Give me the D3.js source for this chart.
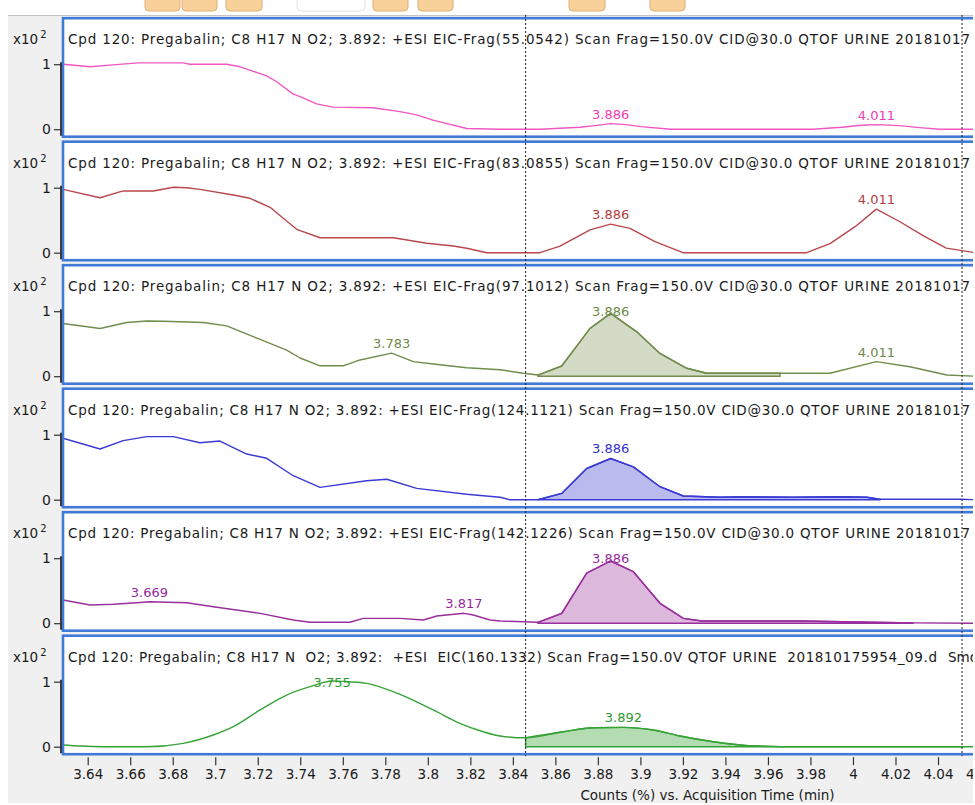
<!DOCTYPE html>
<html>
<head>
<meta charset="utf-8">
<script src="https://cdn.jsdelivr.net/npm/d3@7"></script>
<style>
  html, body { margin: 0; padding: 0; background: #fff; }
  svg { display: block; }
  text { font-family: "DejaVu Sans", Verdana, sans-serif; fill: #1a1a1a; white-space: pre; }
</style>
</head>
<body>
<svg id="chart" width="975" height="805"></svg>
<script>
// Extracted ion chromatograms, Pregabalin (Cpd 120): retention time (min) and relative counts (%)
const frag55Time   = [3.6284, 3.6411, 3.652, 3.6637, 3.6848, 3.6881, 3.7054, 3.7117, 3.7242, 3.7289, 3.7367, 3.7399, 3.7477, 3.7554, 3.7742, 3.7869, 3.7948, 3.8024, 3.8183, 3.834, 3.8528, 3.8622, 3.8716, 3.8787, 3.886, 3.8931, 3.9002, 3.9143, 3.9812, 3.9947, 4.0041, 4.011, 4.0219, 4.0313, 4.0407, 4.0574];
const frag55Counts = [100, 96, 99, 102, 102, 100, 100, 96, 82, 73, 54, 50, 39, 34, 33, 27, 22, 14, 1, 0, 0, 1.5, 3, 5.5, 8.5, 7, 4, 0, 0, 3, 6, 7, 5.5, 2.5, 0, 0];

const frag83Time   = [3.6284, 3.6458, 3.6567, 3.6709, 3.6803, 3.6866, 3.6928, 3.7085, 3.7163, 3.7258, 3.732, 3.7383, 3.7493, 3.7838, 3.7995, 3.812, 3.8183, 3.8277, 3.8528, 3.8622, 3.8763, 3.886, 3.8951, 3.9069, 3.92, 3.9782, 3.9892, 4.001, 4.011, 4.0219, 4.0336, 4.0439, 4.0574];
const frag83Counts = [97.5, 84.6, 95, 95, 100.6, 100, 97.5, 88.8, 83.7, 69.8, 52.9, 36, 23, 23, 14.5, 10.3, 6.8, 0, 0, 10, 35, 44, 37.5, 17, 0, 0, 14, 40, 67, 48, 25, 7, 0];

const frag97Time   = [3.6284, 3.6458, 3.6583, 3.6678, 3.6756, 3.6944, 3.7054, 3.7211, 3.7336, 3.7399, 3.7493, 3.7602, 3.7681, 3.783, 3.7932, 3.8026, 3.8183, 3.834, 3.8449, 3.8518, 3.863, 3.8763, 3.886, 3.8983, 3.9092, 3.9218, 3.9312, 3.9657, 3.9892, 4.011, 4.0268, 4.0441, 4.0574];
const frag97Counts = [81, 73.4, 82.6, 85, 84.6, 82.6, 77.4, 56.6, 40, 28, 16, 16, 25, 35.4, 22.5, 18.8, 13.1, 10, 4.5, 1.8, 15.7, 73.5, 96.6, 68.3, 35, 12.2, 4.5, 4.5, 4.5, 22.5, 14.6, 1.8, 0];

const frag124Time   = [3.6284, 3.6458, 3.6567, 3.6678, 3.6803, 3.6928, 3.7022, 3.7148, 3.7242, 3.7367, 3.7493, 3.7712, 3.7807, 3.7948, 3.8183, 3.834, 3.8387, 3.8518, 3.863, 3.8747, 3.886, 3.8967, 3.9092, 3.9202, 3.9374, 3.9484, 3.9719, 3.9939, 4.0065, 4.0127, 4.0504, 4.0574];
const frag124Counts = [94.5, 78, 90.8, 97, 97, 87.7, 90.3, 70.3, 63.7, 36.9, 19, 29.2, 31.4, 17.5, 8.3, 3.7, 0, 0, 9.7, 48, 63.4, 50.5, 20, 5.7, 3.7, 4.6, 3.7, 4.6, 3.7, 0.6, 0.6, 0];

const frag142Time   = [3.6284, 3.6411, 3.652, 3.6631, 3.669, 3.6866, 3.6991, 3.7211, 3.7367, 3.7446, 3.7634, 3.7696, 3.7869, 3.7979, 3.8042, 3.817, 3.8214, 3.8293, 3.834, 3.8518, 3.863, 3.8747, 3.886, 3.8967, 3.9092, 3.9202, 3.9288, 3.9751, 4.0282, 4.0574];
const frag142Counts = [35.7, 28, 29.1, 31.5, 33, 31.5, 25.4, 15.2, 4.9, 1.4, 1.4, 7.5, 7.5, 4.9, 11.1, 15.2, 12.6, 4.9, 3.4, 1.4, 15.2, 76.9, 95.7, 79.2, 30.6, 7.5, 3.4, 3.4, 0.5, 0];

const eic160Time   = [3.6284, 3.6364, 3.6473, 3.6678, 3.685, 3.6991, 3.7085, 3.7211, 3.7336, 3.7446, 3.755, 3.7602, 3.7712, 3.7869, 3.8026, 3.8151, 3.8261, 3.834, 3.846, 3.8637, 3.8778, 3.892, 3.9061, 3.9186, 3.9343, 3.9547, 3.9751, 4.0574];
const eic160Counts = [2.6, 1, 0, 0, 5.2, 18, 30.8, 56.5, 79.5, 92.3, 101, 100.5, 97.4, 80.5, 56.5, 36, 23, 16.5, 13.7, 23, 29.2, 29.8, 25.7, 16.5, 7.7, 1, 0, 0];

// labelled apex retention times per trace
const frag55Peaks  = [3.886, 4.011];
const frag83Peaks  = [3.886, 4.011];
const frag97Peaks  = [3.783, 3.886, 4.011];
const frag124Peaks = [3.886];
const frag142Peaks = [3.669, 3.817, 3.886];
const eic160Peaks  = [3.755, 3.892];

// integrated peak windows (min)
const frag97Window  = [3.8518, 3.9657];
const frag124Window = [3.8518, 4.0127];
const frag142Window = [3.8518, 4.0282];
const eic160Window  = [3.846, 4.0513];

// integration range markers (min)
const markerTimes = [3.846, 4.0513];

// panel headers: [main header, trailing field]
const panelTitles = [
  ["Cpd 120: Pregabalin; C8 H17 N O2; 3.892: +ESI EIC-Frag(55.0542) Scan Frag=150.0V CID@30.0 QTOF URINE 20181017", ""],
  ["Cpd 120: Pregabalin; C8 H17 N O2; 3.892: +ESI EIC-Frag(83.0855) Scan Frag=150.0V CID@30.0 QTOF URINE 20181017", ""],
  ["Cpd 120: Pregabalin; C8 H17 N O2; 3.892: +ESI EIC-Frag(97.1012) Scan Frag=150.0V CID@30.0 QTOF URINE 20181017", ""],
  ["Cpd 120: Pregabalin; C8 H17 N O2; 3.892: +ESI EIC-Frag(124.1121) Scan Frag=150.0V CID@30.0 QTOF URINE 20181017", ""],
  ["Cpd 120: Pregabalin; C8 H17 N O2; 3.892: +ESI EIC-Frag(142.1226) Scan Frag=150.0V CID@30.0 QTOF URINE 20181017", ""],
  ["Cpd 120: Pregabalin; C8 H17 N  O2; 3.892:  +ESI  EIC(160.1332) Scan Frag=150.0V QTOF URINE  201810175954_09.d", "Smooth"]
];

const xTicks = [3.64, 3.66, 3.68, 3.7, 3.72, 3.74, 3.76, 3.78, 3.8, 3.82, 3.84, 3.86, 3.88, 3.9, 3.92, 3.94, 3.96, 3.98, 4, 4.02, 4.04, 4.06];
const yTicks = [0, 100];
const xAxisTitle = "Counts (%) vs. Acquisition Time (min)";

// ---- styling per trace ----
const styles = [
  { line: "#f257c1", label: "#ee3cb2", fill: null,      titleEnd: 970, curve: d3.curveLinear },
  { line: "#b9474b", label: "#b23c40", fill: null,      titleEnd: 970, curve: d3.curveLinear },
  { line: "#718c4c", label: "#6f8a4a", fill: "#d3dbc7", titleEnd: 970, curve: d3.curveLinear },
  { line: "#3a3ad4", label: "#3030d0", fill: "#babaee", titleEnd: 970, curve: d3.curveLinear },
  { line: "#9a2e9e", label: "#962a9a", fill: "#ddb8dd", titleEnd: 970, curve: d3.curveLinear },
  { line: "#36a336", label: "#2f9a2f", fill: "#b3dcb3", titleEnd: 937, curve: d3.curveMonotoneX }
];

const traces = [
  { time: frag55Time,  counts: frag55Counts,  peaks: frag55Peaks,  window: null },
  { time: frag83Time,  counts: frag83Counts,  peaks: frag83Peaks,  window: null },
  { time: frag97Time,  counts: frag97Counts,  peaks: frag97Peaks,  window: frag97Window },
  { time: frag124Time, counts: frag124Counts, peaks: frag124Peaks, window: frag124Window },
  { time: frag142Time, counts: frag142Counts, peaks: frag142Peaks, window: frag142Window },
  { time: eic160Time,  counts: eic160Counts,  peaks: eic160Peaks,  window: eic160Window }
].map((t, i) => Object.assign(t, {
  title: panelTitles[i],
  points: t.time.map((tm, k) => ({ t: tm, v: t.counts[k] }))
}));

// ---- layout ----
const W = 975, H = 805;
const plotLeft = 63, plotRight = 973;
const firstZero = 129.2, panelStep = 123.5, unitHeight = 65;
const panelTopPad = 111, panelBottomPad = 7.5;

const svg = d3.select("#chart");
svg.append("rect").attr("width", W).attr("height", H).attr("fill", "#ffffff");
svg.append("rect").attr("x", 8).attr("y", 15).attr("width", 965).attr("height", 788).attr("fill", "#f0f0f0");
svg.append("line").attr("x1", 8).attr("x2", 973).attr("y1", 15.5).attr("y2", 15.5)
   .attr("stroke", "#c4c4c4").attr("stroke-width", 1);

// toolbar tabs along the top edge
const tabs = [[145, 35, "#f8d09a"], [182, 35, "#f8d09a"], [226, 36, "#f8d09a"], [297, 68, "#ffffff"],
              [373, 35, "#f8d09a"], [418, 35, "#f8d09a"], [569, 36, "#f8d09a"], [650, 35, "#f8d09a"]];
svg.append("g").selectAll("rect").data(tabs).join("rect")
  .attr("x", d => d[0]).attr("y", -8).attr("width", d => d[1]).attr("height", 19)
  .attr("rx", 4).attr("fill", d => d[2]).attr("stroke", d => d[2] === "#ffffff" ? "#e2e2e2" : "#e0b070")
  .attr("stroke-width", 1);

const x = d3.scaleLinear().domain([3.64, 4.04]).range([87.7, 938]);

// value of a trace at time tm (linear between samples), used to close the window edges
function valueAt(points, tm) {
  const i = d3.bisector(d => d.t).left(points, tm);
  if (i <= 0) return points[0].v;
  if (i >= points.length) return points[points.length - 1].v;
  const a = points[i - 1], b = points[i];
  return a.v + (b.v - a.v) * (tm - a.t) / (b.t - a.t);
}

let lastBottom = 0;
traces.forEach((tr, i) => {
  const zeroY = firstZero + panelStep * i;
  const top = zeroY - panelTopPad, bottom = zeroY + panelBottomPad;
  lastBottom = bottom;
  const y = d3.scaleLinear().domain([0, 100]).range([zeroY, zeroY - unitHeight]);
  const st = styles[i];
  const g = svg.append("g");

  const clipId = "clip" + i;
  svg.append("clipPath").attr("id", clipId).append("rect")
    .attr("x", plotLeft).attr("y", top).attr("width", plotRight - plotLeft).attr("height", bottom - top);

  g.append("rect").attr("x", plotLeft).attr("y", top).attr("width", 1000).attr("height", bottom - top)
    .attr("fill", "#ffffff");

  const body = g.append("g").attr("clip-path", `url(#${clipId})`);

  // header line
  body.append("text")
    .attr("x", 68).attr("y", zeroY - 85)
    .attr("font-size", 13.5)
    .attr("textLength", st.titleEnd - 68).attr("lengthAdjust", "spacing")
    .text(tr.title[0]);
  if (tr.title[1]) {
    body.append("text").attr("x", 948).attr("y", zeroY - 85).attr("font-size", 13.5).text(tr.title[1]);
  }

  const lineGen = d3.line().curve(st.curve).x(d => x(d.t)).y(d => y(d.v));
  const areaGen = d3.area().curve(st.curve).x(d => x(d.t)).y0(y(0)).y1(d => y(d.v));

  // integrated peak fill
  if (tr.window) {
    const [w0, w1] = tr.window;
    const inside = tr.points.filter(p => p.t > w0 && p.t < w1);
    const pts = [{ t: w0, v: valueAt(tr.points, w0) }, ...inside, { t: w1, v: valueAt(tr.points, w1) }];
    body.append("path").datum(pts)
      .attr("d", d => areaGen(d) + "Z")
      .attr("fill", st.fill).attr("stroke", st.line).attr("stroke-width", 1.4);
  }

  body.append("path").datum(tr.points)
    .attr("d", lineGen)
    .attr("fill", "none").attr("stroke", st.line).attr("stroke-width", 1.4)
    .attr("stroke-linejoin", "round");

  // apex labels
  body.selectAll("text.peak").data(tr.peaks).join("text")
    .attr("class", "peak")
    .attr("x", d => x(d))
    .attr("y", d => Math.max(y(valueAt(tr.points, d)) - 5, y(92)))
    .attr("text-anchor", "middle").attr("font-size", 13)
    .style("fill", st.label)
    .text(d => d.toFixed(3));

  // panel frame
  g.append("rect").attr("x", plotLeft).attr("y", top).attr("width", 1000).attr("height", bottom - top)
    .attr("fill", "none").attr("stroke", "#3f7bd6").attr("stroke-width", 2.6);

  // y axis
  const yAxis = d3.axisLeft(y).tickValues(yTicks).tickSize(7).tickPadding(3)
    .tickFormat(d => String(d / 100));
  const ya = svg.append("g").attr("transform", "translate(61,0)").call(yAxis);
  ya.select(".domain").remove();
  ya.selectAll(".tick line").attr("stroke", "#333").attr("stroke-width", 1.2);
  ya.selectAll(".tick text").attr("font-size", 14).attr("font-family", "DejaVu Sans, sans-serif")
    .style("fill", "#1a1a1a");
  svg.append("line").attr("x1", 61).attr("x2", 61).attr("y1", y(100) - 2).attr("y2", bottom - 1)
    .attr("stroke", "#2a2a2a").attr("stroke-width", 1.8);

  const mult = svg.append("text").attr("x", 13).attr("y", zeroY - 85).attr("font-size", 13.5);
  mult.append("tspan").text("x10");
  mult.append("tspan").attr("dx", 2).attr("dy", -6).attr("font-size", 10).text("2");
});

// integration markers across all panels
svg.append("g").selectAll("line").data(markerTimes).join("line")
  .attr("x1", d => x(d)).attr("x2", d => x(d))
  .attr("y1", 15).attr("y2", lastBottom + 2)
  .attr("stroke", "#1e1e1e").attr("stroke-width", 1).attr("stroke-dasharray", "2,2");

// shared time axis
const xAxis = d3.axisBottom(x).tickValues(xTicks).tickSize(8).tickPadding(4)
  .tickFormat(d => String(+d.toFixed(2)));
const xa = svg.append("g").attr("transform", `translate(0,${lastBottom + 3})`).call(xAxis);
xa.select(".domain").remove();
xa.selectAll(".tick line").attr("stroke", "#333").attr("stroke-width", 1.2);
xa.selectAll(".tick text").attr("font-size", 13.5).attr("font-family", "DejaVu Sans, sans-serif")
  .style("fill", "#1a1a1a");

svg.append("text").attr("x", 707.5).attr("y", 800).attr("text-anchor", "middle")
  .attr("font-size", 13.5).text(xAxisTitle);

// right edge of the window frame
svg.append("rect").attr("x", 973).attr("y", 0).attr("width", 2).attr("height", H).attr("fill", "#ffffff");
</script>
</body>
</html>
